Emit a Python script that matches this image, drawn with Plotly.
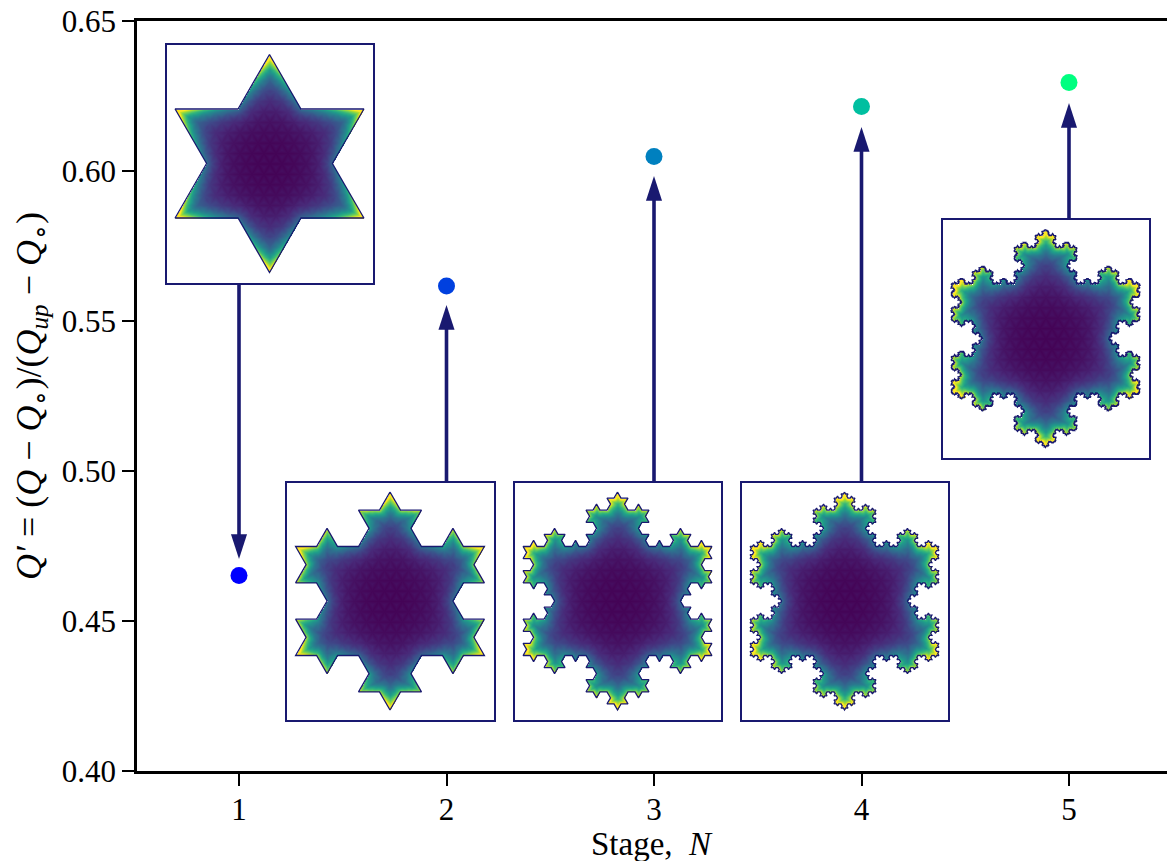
import numpy as np
import plotly.graph_objects as go

# ---- chart values ----
stages = [1, 2, 3, 4, 5]
q_prime = [0.4652, 0.5617, 0.6048, 0.6215, 0.6295]
point_colors = ["#0000ff", "#0040df", "#0080bf", "#00bfa0", "#00ff80"]
arrow_tail = [0.5627, 0.4963, 0.4963, 0.4963, 0.5827]
arrow_tip = [0.4707, 0.5553, 0.5983, 0.6147, 0.6227]
arrow_angle = [180, 0, 0, 0, 0]
y_ticks = [0.40, 0.45, 0.50, 0.55, 0.60, 0.65]

# inset boxes in window pixels: left, right, top, bottom
inset_left = [166.5, 286.5, 514.5, 741.5, 942.5]
inset_right = [372.5, 493.5, 720.5, 947.5, 1148.5]
inset_top = [44.5, 482.5, 482.5, 482.5, 219.5]
inset_bottom = [282.5, 719.5, 719.5, 719.5, 457.5]

W, H = 1167, 861
ML, MR, MT, MB = 137, 0, 21, 90
PW, PH = W - ML - MR, H - MT - MB
NAVY = "#191970"
FONT = "Liberation Serif"
R = 109.0
HEAD_OVERLAP = 15 / (PH / 0.25)  # shaft stops inside the arrow head


def koch(n):
    ang = np.radians([90, 330, 210, 90])
    pts = np.c_[R * np.cos(ang), R * np.sin(ang)]
    rot = np.array([[0.5, -np.sqrt(3) / 2], [np.sqrt(3) / 2, 0.5]])
    for _ in range(n):
        out = []
        for a, b in zip(pts[:-1], pts[1:]):
            s = (b - a) / 3
            out += [a, a + s, a + s + rot @ s, a + 2 * s]
        out.append(pts[-1])
        pts = np.array(out)
    return pts


def field(poly, xs, ys):
    X, Y = np.meshgrid(xs, ys)
    inside = np.zeros(X.shape, bool)
    d2 = np.full(X.shape, np.inf)
    for (x1, y1), (x2, y2) in zip(poly[:-1], poly[1:]):
        if y1 != y2:
            m = (y1 > Y) != (y2 > Y)
            inside ^= m & (X < x1 + (Y - y1) * (x2 - x1) / (y2 - y1))
        dx, dy = x2 - x1, y2 - y1
        t = np.clip(((X - x1) * dx + (Y - y1) * dy) / (dx * dx + dy * dy), 0, 1)
        d2 = np.minimum(d2, (X - x1 - t * dx) ** 2 + (Y - y1 - t * dy) ** 2)
    d = np.sqrt(d2)
    r = np.hypot(X, Y) / R
    z = 0.005 + 0.38 * r**2.5 + 0.90 * r**2.3 * np.exp(-d / 9.0)
    # faint triangular mesh seen in the interior
    s = 12.0
    u1 = Y / (s * np.sqrt(3) / 2)
    u2 = (Y * 0.5 + X * np.sqrt(3) / 2) / (s * np.sqrt(3) / 2)
    u3 = (Y * 0.5 - X * np.sqrt(3) / 2) / (s * np.sqrt(3) / 2)
    line = np.minimum.reduce([np.abs(u - np.round(u)) for u in (u1, u2, u3)])
    z += 0.03 * np.clip(line * 3, 0, 1)
    z = np.where(inside, np.clip(z, 0, 1), np.nan)
    return z.astype("float32")


fig = go.Figure()

fig.add_trace(go.Scatter(
    x=stages, y=q_prime, mode="markers", showlegend=False,
    marker=dict(color=point_colors, size=17, line=dict(width=0)),
))
for xv, a, b in zip(stages, arrow_tail, arrow_tip):
    end = b + HEAD_OVERLAP if b < a else b - HEAD_OVERLAP
    fig.add_trace(go.Scatter(
        x=[xv, xv], y=[a, end], mode="lines", showlegend=False,
        line=dict(color=NAVY, width=3.6),
    ))
fig.add_trace(go.Scatter(
    x=stages, y=arrow_tip, mode="markers", showlegend=False,
    marker=dict(symbol="arrow", size=26, color=NAVY, angle=arrow_angle,
                line=dict(width=0)),
))

layout_axes = {}
for i, n in enumerate(stages):
    k = i + 2
    hw = (inset_right[i] - inset_left[i]) / 2
    hh = (inset_bottom[i] - inset_top[i]) / 2
    xs = np.arange(-hw + 0.5, hw, 1.0)
    ys = np.arange(-hh + 0.5, hh, 1.0)
    poly = koch(n)
    fig.add_trace(go.Heatmap(
        x=xs, y=ys, z=field(poly, xs, ys), colorscale="Viridis", zmin=0, zmax=1,
        showscale=False, hoverinfo="skip", xaxis=f"x{k}", yaxis=f"y{k}",
    ))
    fig.add_trace(go.Scatter(
        x=poly[:, 0], y=poly[:, 1], mode="lines", showlegend=False,
        line=dict(color=NAVY, width=1.3), xaxis=f"x{k}", yaxis=f"y{k}",
    ))
    ax = dict(showline=True, mirror=True, linecolor=NAVY, linewidth=1.5,
              showgrid=False, zeroline=False, showticklabels=False, ticks="")
    layout_axes[f"xaxis{k}"] = dict(
        ax, domain=[(inset_left[i] - ML) / PW, (inset_right[i] - ML) / PW],
        range=[-hw, hw], anchor=f"y{k}")
    layout_axes[f"yaxis{k}"] = dict(
        ax, domain=[1 - (inset_bottom[i] - MT) / PH, 1 - (inset_top[i] - MT) / PH],
        range=[-hh, hh], anchor=f"x{k}")

xmin = 1 - (239 - ML) / 207.5
Q0 = "<i>Q</i><sub>∘</sub>"
fig.update_layout(
    width=W, height=H, autosize=False,
    margin=dict(l=ML, r=MR, t=MT, b=MB, pad=0),
    paper_bgcolor="white", plot_bgcolor="white", showlegend=False,
    font=dict(family=FONT, color="black", size=31),
    xaxis=dict(
        range=[xmin, xmin + PW / 207.5], tickmode="array", tickvals=stages,
        ticks="outside", ticklen=12, tickwidth=2, tickcolor="black",
        showline=True, mirror=True, linecolor="black", linewidth=2.6,
        showgrid=False, zeroline=False, ticklabelstandoff=-3,
        tickfont=dict(size=31, family=FONT),
    ),
    yaxis=dict(
        range=[0.40, 0.65], tickmode="array", tickvals=y_ticks, tickformat=".2f",
        ticks="outside", ticklen=12, tickwidth=2, tickcolor="black",
        showline=True, mirror=False, linecolor="black", linewidth=2.6,
        showgrid=False, zeroline=False,
        tickfont=dict(size=31, family=FONT),
        title=dict(
            text=f"<i>Q′</i> = (<i>Q</i> − {Q0})/(<i>Q<sub>up</sub></i> − {Q0})",
            standoff=10, font=dict(size=36, family=FONT)),
    ),
    annotations=[dict(
        text="Stage,  <i>N</i>", xref="paper", yref="paper", x=0.5, y=0,
        xanchor="center", yanchor="top", yshift=-53, showarrow=False,
        font=dict(size=33, family=FONT, color="black"),
    )],
    **layout_axes,
)

fig.write_html("out.html", config=dict(displayModeBar=False),
               post_script="document.body.style.margin='0';")
